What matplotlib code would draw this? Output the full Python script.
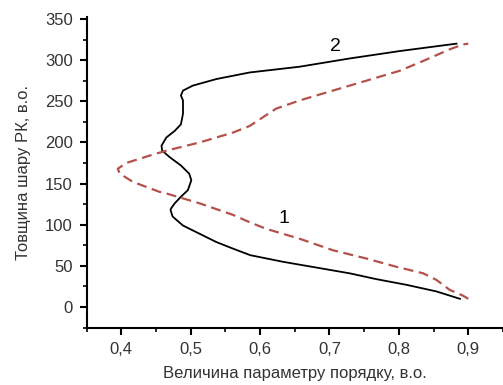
import matplotlib
matplotlib.use('Agg')
import matplotlib.pyplot as plt
from matplotlib.ticker import MultipleLocator, FuncFormatter

plt.rcParams['font.family'] = ['Liberation Sans', 'DejaVu Sans']

# curve 1 (dashed): order parameter vs layer thickness
x1 = [0.900, 0.892, 0.873, 0.854, 0.835, 0.796, 0.753, 0.705, 0.657, 0.609,
      0.585, 0.561, 0.513, 0.465, 0.455, 0.417, 0.398, 0.395, 0.407, 0.441,
      0.465, 0.513, 0.561, 0.585, 0.623, 0.657, 0.729, 0.801, 0.835, 0.873,
      0.892, 0.900]
y1 = [10, 14, 21, 33, 41, 49, 59, 69, 83, 95,
      103, 112, 126, 138, 140, 152, 162, 168, 175, 184,
      190, 200, 212, 220, 241, 251, 269, 287, 299, 313,
      319, 320]

# curve 2 (solid)
x2 = [0.888, 0.854, 0.811, 0.767, 0.729, 0.681, 0.633, 0.586, 0.561, 0.537,
      0.513, 0.489, 0.474, 0.471, 0.472, 0.477, 0.486, 0.496, 0.501, 0.498,
      0.486, 0.470, 0.459, 0.458, 0.465, 0.477, 0.486, 0.489, 0.489, 0.486,
      0.489, 0.503, 0.537, 0.585, 0.657, 0.729, 0.801, 0.883]
y2 = [10, 19, 27, 34, 41, 48, 55, 63, 71, 79,
      89, 99, 110, 118, 120, 126, 134, 142, 154, 162,
      172, 182, 190, 196, 206, 214, 222, 235, 251, 257,
      263, 269, 277, 285, 292, 302, 311, 320]

fig = plt.figure(figsize=(5.03, 3.85), dpi=100)
ax = fig.add_axes([0.172, 0.149, 0.828, 0.806])

ax.plot(x2, y2, color='black', lw=1.3)
ax.plot(x1, y1, color='#b5514b', lw=1.6, linestyle=(0, (4.5, 2.5)))

ax.text(0.708, 317, '2', fontsize=14, ha='center', va='center')
ax.text(0.635, 108, '1', fontsize=14, ha='center', va='center')

ax.set_xlim(0.35, 0.95)
ax.set_ylim(-25, 352)
ax.xaxis.set_major_locator(MultipleLocator(0.1))
ax.xaxis.set_minor_locator(MultipleLocator(0.05))
ax.yaxis.set_major_locator(MultipleLocator(50))
ax.yaxis.set_minor_locator(MultipleLocator(25))
ax.xaxis.set_major_formatter(FuncFormatter(lambda v, p: ('%.1f' % v).replace('.', ',')))

for side in ['top', 'right']:
    ax.spines[side].set_visible(False)
for side in ['left', 'bottom']:
    ax.spines[side].set_linewidth(1.5)
ax.tick_params(which='major', direction='out', length=5, width=1.5, pad=5,
               labelsize=12, labelcolor='#333333')
ax.tick_params(which='minor', direction='out', length=3, width=1.2)

ax.set_xlabel('Величина параметру порядку, в.о.', fontsize=12, color='#333333', labelpad=7)
ax.set_ylabel('Товщина шару РК, в.о.', fontsize=12, color='#333333', labelpad=10)

fig.savefig('out.png', dpi=100)
